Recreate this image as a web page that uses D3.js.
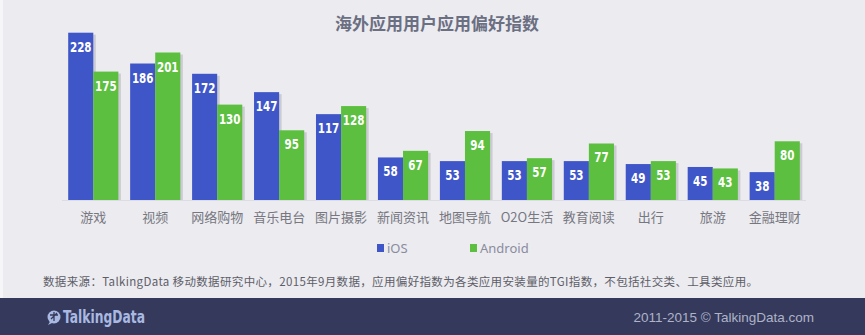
<!DOCTYPE html>
<html><head><meta charset="utf-8">
<script src="https://cdn.jsdelivr.net/npm/d3@7/dist/d3.min.js"></script>
<style>
html,body{margin:0;padding:0;background:#ebebf0;}
svg{display:block;}
</style></head>
<body>
<svg id="c" width="865" height="335"></svg>
<script>
const categories = ["游戏","视频","网络购物","音乐电台","图片摄影","新闻资讯","地图导航","O2O生活","教育阅读","出行","旅游","金融理财"];
const iosValues = [228,186,172,147,117,58,53,53,53,49,45,38];
const androidValues = [175,201,130,95,128,67,94,57,77,53,43,80];
const seriesNames = ["iOS","Android"];
const colors = ["#3f56c9","#5cbf3f"];
const title = "海外应用用户应用偏好指数";
const source = "数据来源：TalkingData 移动数据研究中心，2015年9月数据，应用偏好指数为各类应用安装量的TGI指数，不包括社交类、工具类应用。";
const footerRight = "2011-2015 © TalkingData.com";

const svg = d3.select("#c");
const W = 865, H = 335;
svg.append("rect").attr("width",W).attr("height",H).attr("fill","#ebebf0");
svg.append("rect").attr("x",0).attr("y",0).attr("width",3).attr("height",298).attr("fill","#f6f6f9");

const x0 = d3.scaleBand().domain(categories).range([62,806]).paddingInner(0.19).paddingOuter(0.1);
const x1 = d3.scaleBand().domain(seriesNames).range([0,x0.bandwidth()]);
const y = d3.scaleLinear().domain([0,228]).range([200,32.7]);

svg.append("text").attr("x",437).attr("y",30).attr("text-anchor","middle")
  .attr("font-family","'Noto Sans CJK SC',sans-serif").attr("font-weight","bold")
  .attr("font-size",17).attr("fill","#6b6f82").text(title);

const data = categories.map((c,i)=>({c, vals:[iosValues[i],androidValues[i]]}));
const g = svg.append("g");
const grp = g.selectAll("g").data(data).join("g").attr("transform",d=>`translate(${x0(d.c)},0)`);
// shadows
grp.selectAll("rect.sh").data(d=>d.vals.map((v,k)=>({v,k}))).join("rect")
  .attr("class","sh")
  .attr("x",d=>x1(seriesNames[d.k])+2.5).attr("y",d=>y(d.v)+2)
  .attr("width",x1.bandwidth()).attr("height",d=>200-y(d.v)-2)
  .attr("fill","#9a9aa6").attr("opacity",0.4);
grp.selectAll("rect.b").data(d=>d.vals.map((v,k)=>({v,k}))).join("rect")
  .attr("class","b")
  .attr("x",d=>x1(seriesNames[d.k])).attr("y",d=>y(d.v))
  .attr("width",x1.bandwidth()).attr("height",d=>200-y(d.v))
  .attr("fill",d=>colors[d.k]);
grp.selectAll("text.v").data(d=>d.vals.map((v,k)=>({v,k}))).join("text")
  .attr("class","v")
  .attr("x",d=>x1(seriesNames[d.k])+x1.bandwidth()/2).attr("y",d=>y(d.v)+19)
  .attr("text-anchor","middle")
  .attr("font-family","'DejaVu Sans',sans-serif")
  .attr("font-weight","bold").attr("font-size",14).attr("fill","#ffffff")
  .attr("textLength",d=>String(d.v).length*7.2).attr("lengthAdjust","spacingAndGlyphs")
  .text(d=>d.v);

// baseline
svg.append("line").attr("x1",62).attr("x2",806).attr("y1",200.5).attr("y2",200.5).attr("stroke","#dcdce4");

const xAxis = d3.axisBottom(x0).tickSize(0).tickPadding(0);
const ax = svg.append("g").attr("transform","translate(0,213)").call(xAxis);
ax.select(".domain").remove();
ax.selectAll("text").attr("font-family","'Noto Sans CJK SC',sans-serif").attr("font-size",13).attr("fill","#77777f").attr("dy","0.71em");

// legend
const leg = svg.append("g");
const legX = [377,470];
seriesNames.forEach((s,i)=>{
  leg.append("rect").attr("x",legX[i]).attr("y",244).attr("width",7).attr("height",8).attr("fill",colors[i]);
  leg.append("text").attr("x",legX[i]+10).attr("y",252.5).attr("font-family","'Noto Sans','Open Sans',sans-serif")
    .attr("font-size",13).attr("fill","#8a8c9e").text(s);
});

svg.append("text").attr("x",43).attr("y",286).attr("font-family","'Noto Sans CJK SC',sans-serif")
  .attr("font-size",11.5).attr("fill","#5e5e68").attr("textLength",715).text(source);

// footer
svg.append("rect").attr("x",0).attr("y",298).attr("width",W).attr("height",37).attr("fill","#353a5c");
const logo = svg.append("g").attr("transform","translate(54,317)");
logo.append("circle").attr("r",6.5).attr("fill","#a9b9e2");
logo.append("path").attr("d","M-3,3 L-6,8 L0,5 Z").attr("fill","#a9b9e2");
logo.append("path").attr("d","M-4,-2 L4,-2 M0,-5 L0,4 M-3,2 L3,-4").attr("stroke","#353a5c").attr("stroke-width",1.3);
svg.append("text").attr("x",63).attr("y",323).attr("font-family","'DejaVu Sans',sans-serif")
  .attr("font-weight","bold").attr("font-size",17).attr("fill","#a9b9e2")
  .attr("textLength",82).attr("lengthAdjust","spacingAndGlyphs").text("TalkingData");
svg.append("text").attr("x",814).attr("y",322).attr("text-anchor","end").attr("font-family","'Liberation Sans','Arial',sans-serif")
  .attr("font-size",13.5).attr("fill","#aeb3c8").text(footerRight);
</script>
</body></html>
